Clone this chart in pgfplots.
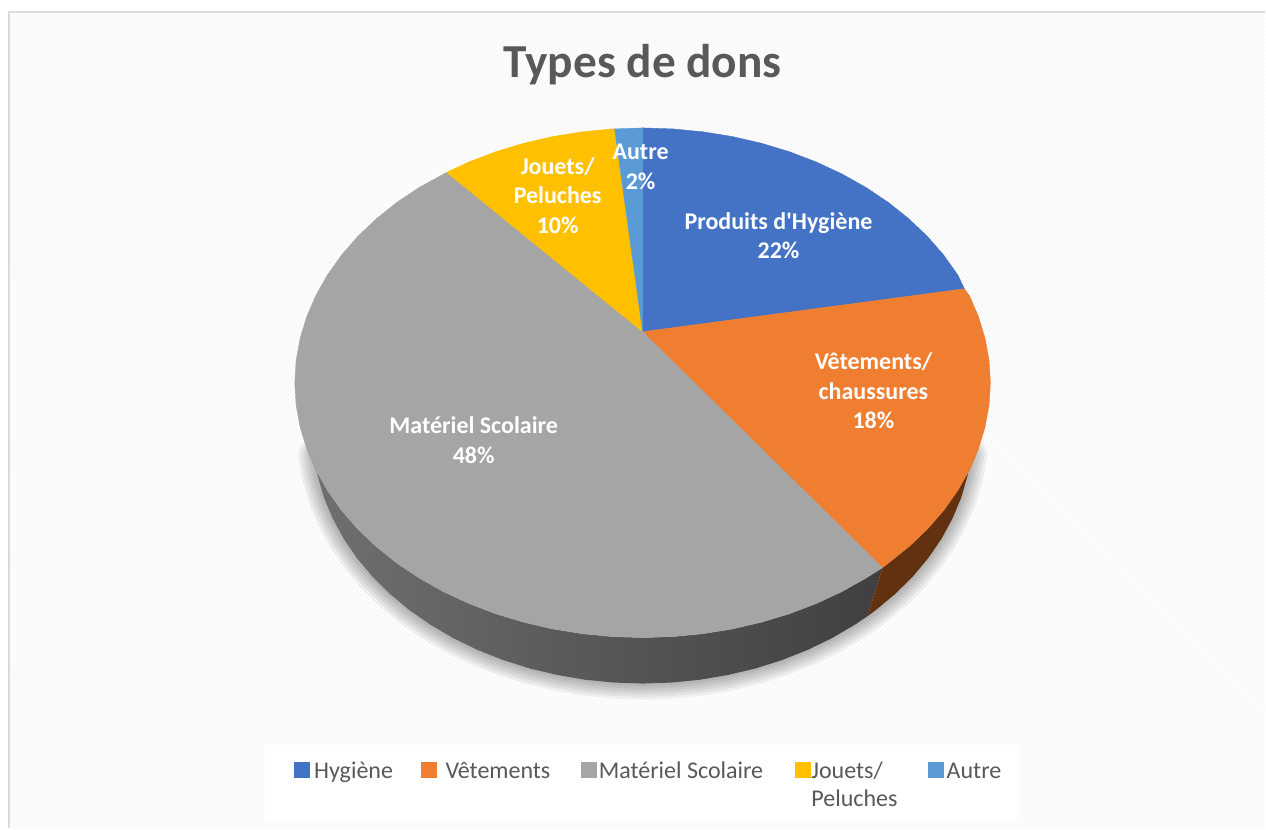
\documentclass[border=0pt]{standalone}
\usepackage{pgfplots}
\pgfplotsset{compat=1.18}
\usepackage{pgfplotstable}
\usepackage{fontspec}
\setmainfont{Carlito}[Ligatures=TeXOff]
\usetikzlibrary{patterns}

\definecolor{hyg}{HTML}{4472C4}
\definecolor{vet}{HTML}{EF7E30}
\definecolor{mat}{HTML}{A5A5A5}
\definecolor{jou}{HTML}{FFC000}
\definecolor{aut}{HTML}{5B9BD5}
\definecolor{txt}{HTML}{595959}

% lower edge of the pie's side, in picture pixels
\pgfplotstableread{
x y
971.7 454.9
968 476.6
961.8 498
953.1 518.8
942.1 539.1
928.8 558.5
913.3 577
895.8 594.3
876.3 610.5
868 616.6
855.1 625.3
832.3 638.6
808 650.4
782.5 660.5
755.9 668.9
728.4 675.4
700.3 680.2
671.8 683
643 684
614.2 683
585.7 680.2
557.6 675.4
530.1 668.9
503.5 660.5
478 650.4
453.7 638.6
430.9 625.3
409.7 610.5
390.2 594.3
372.7 577
357.2 558.5
343.9 539.1
332.9 518.8
324.2 498
318 476.6
314.3 454.9
}\outerarc

\begin{document}
\begin{tikzpicture}
\begin{axis}[
  scale only axis, width=949.5pt, height=621.75pt,
  xmin=0, xmax=1266, ymin=0, ymax=829,
  y dir=reverse,
  hide axis, clip=false,
  title={Types de dons},
  title style={at={(axis cs:643,73)}, anchor=center, text=txt, font=\fontsize{35.5}{42}\selectfont\bfseries},
  legend columns=5,
  legend cell align=left,
  legend image code/.code={\fill[#1] (0pt,-4.5pt) rectangle (11.25pt,6.75pt);},
  legend style={at={(axis cs:294,762.5)}, anchor=north west, draw=none, fill=none,
    inner sep=0pt, outer sep=0pt, text=txt,
    font=\fontsize{18}{21}\selectfont,
    /tikz/column sep=0pt, nodes={inner sep=0pt, outer sep=0pt}},
]
% page, patterned panel, legend ground
\addplot[fill=white, draw=none, forget plot] coordinates {(0,0) (1266,0) (1266,829) (0,829)} \closedcycle;
\addplot[pattern=north west lines, pattern color=black!5, draw=none, forget plot] coordinates {(9,12) (1266,12) (1266,829) (9,829) (9,12)};
\addplot[draw=black!14, line width=1.2pt, forget plot] coordinates {(9,829) (9,12) (1266,12)};
\addplot[fill=white, draw=none, forget plot] coordinates {(265,745) (1021,745) (1021,822) (265,822) (265,745)};

% soft shadow under the side
\pgfplotsinvokeforeach{24,20,16,12,8,4}{
  \addplot[draw=black, opacity=0.05, line width=#1pt, line join=round, line cap=round, forget plot] table {\outerarc};
}

% side of the pie
\addplot[left color=black!56, middle color=black!74, right color=black!75, draw=none, forget plot] coordinates {
(883,568) (866.7,578.3) (842.6,591.9) (817,603.8) (790.1,614.1) (762,622.6) (733.1,629.3) (703.4,634.1) (673.3,637) (643,638) (612.7,637) (582.6,634.1) (552.9,629.3) (524,622.6) (495.9,614.1) (469,603.8) (443.4,591.9) (419.3,578.3) (396.9,563.3) (376.4,546.9) (357.9,529.3) (341.6,510.5) (327.6,490.8) (316,470.2) (306.9,449) (314.3,454.9)
(318,476.6) (324.2,498) (332.9,518.8) (343.9,539.1) (357.2,558.5) (372.7,577) (390.2,594.3) (409.7,610.5) (430.9,625.3) (453.7,638.6) (478,650.4) (503.5,660.5) (530.1,668.9) (557.6,675.4) (585.7,680.2) (614.2,683) (643,684) (671.8,683) (700.3,680.2) (728.4,675.4) (755.9,668.9) (782.5,660.5) (808,650.4) (832.3,638.6) (855.1,625.3) (868,616.6) (883,568)};
\addplot[fill={rgb,255:red,98;green,50;blue,16}, draw=none, forget plot] coordinates {
(883,568) (889.1,563.3) (909.6,546.9) (928.1,529.3) (944.4,510.5) (958.4,490.8) (970,470.2) (979.1,449) (971.7,454.9) (968,476.6) (961.8,498) (953.1,518.8) (942.1,539.1) (928.8,558.5) (913.3,577) (895.8,594.3) (876.3,610.5) (868,616.6) (883,568)};

% top of the pie
\addplot[fill=hyg, draw=hyg, line width=0.3pt] coordinates {
(643,332) (643,128) (673.3,129) (703.4,131.9) (733.1,136.7) (762,143.4) (790.1,151.9) (817,162.2) (842.6,174.1) (866.7,187.7) (889.1,202.7) (909.6,219.1) (928.1,236.7) (944.4,255.5) (958.4,275.2) (965,289) (643,332)};
\addlegendentry{\makebox[84pt][l]{\hspace{3.75pt}Hygiène}}
\addplot[fill=vet, draw=vet, line width=0.3pt] coordinates {
(643,332) (965,289) (970,295.8) (979.1,317) (985.7,338.7) (989.7,360.8) (991,383) (989.7,405.2) (985.7,427.3) (979.1,449) (970,470.2) (958.4,490.8) (944.4,510.5) (928.1,529.3) (909.6,546.9) (889.1,563.3) (883,568) (643,332)};
\addlegendentry{\makebox[108.75pt][l]{\hspace{6.75pt}Vêtements}}
\addplot[fill=mat, draw=mat, line width=0.3pt] coordinates {
(643,332) (883,568) (866.7,578.3) (842.6,591.9) (817,603.8) (790.1,614.1) (762,622.6) (733.1,629.3) (703.4,634.1) (673.3,637) (643,638) (612.7,637) (582.6,634.1) (552.9,629.3) (524,622.6) (495.9,614.1) (469,603.8) (443.4,591.9) (419.3,578.3) (396.9,563.3) (376.4,546.9) (357.9,529.3) (341.6,510.5) (327.6,490.8) (316,470.2) (306.9,449) (300.3,427.3) (296.3,405.2) (295,383) (296.3,360.8) (300.3,338.7) (306.9,317) (316,295.8) (327.6,275.2) (341.6,255.5) (357.9,236.7) (376.4,219.1) (396.9,202.7) (419.3,187.7) (447,172.5) (643,332)};
\addlegendentry{\makebox[148.5pt][l]{\hspace{1.5pt}Matériel Scolaire}}
\addplot[fill=jou, draw=jou, line width=0.3pt] coordinates {
(643,332) (447,172.5) (469,162.2) (495.9,151.9) (524,143.4) (552.9,136.7) (582.6,131.9) (612.7,129) (615,129) (643,332)};
\addlegendentry{\makebox[88.5pt][l]{\hspace{1pt}\vtop{\baselineskip=21pt\hbox{Jouets/}\hbox{Peluches}}}}
\addplot[fill=aut, draw=aut, line width=0.3pt] coordinates {
(643,332) (615,129) (643,128) (643,332)};
\addlegendentry{\makebox[45pt][l]{\hspace{2.5pt}Autre}}

% data labels
\begin{scope}[every node/.style={text=white, align=center, font=\fontsize{18}{22}\selectfont\bfseries}]
\node at (axis cs:779,236) {Produits d'Hygiène\\22\%};
\node at (axis cs:874,391) {Vêtements/\\chaussures\\18\%};
\node at (axis cs:474,440.5) {Matériel Scolaire\\48\%};
\node at (axis cs:558,195.5) {Jouets/\\Peluches\\10\%};
\node at (axis cs:641,167) {Autre\\2\%};
\end{scope}
\end{axis}
\end{tikzpicture}
\end{document}
